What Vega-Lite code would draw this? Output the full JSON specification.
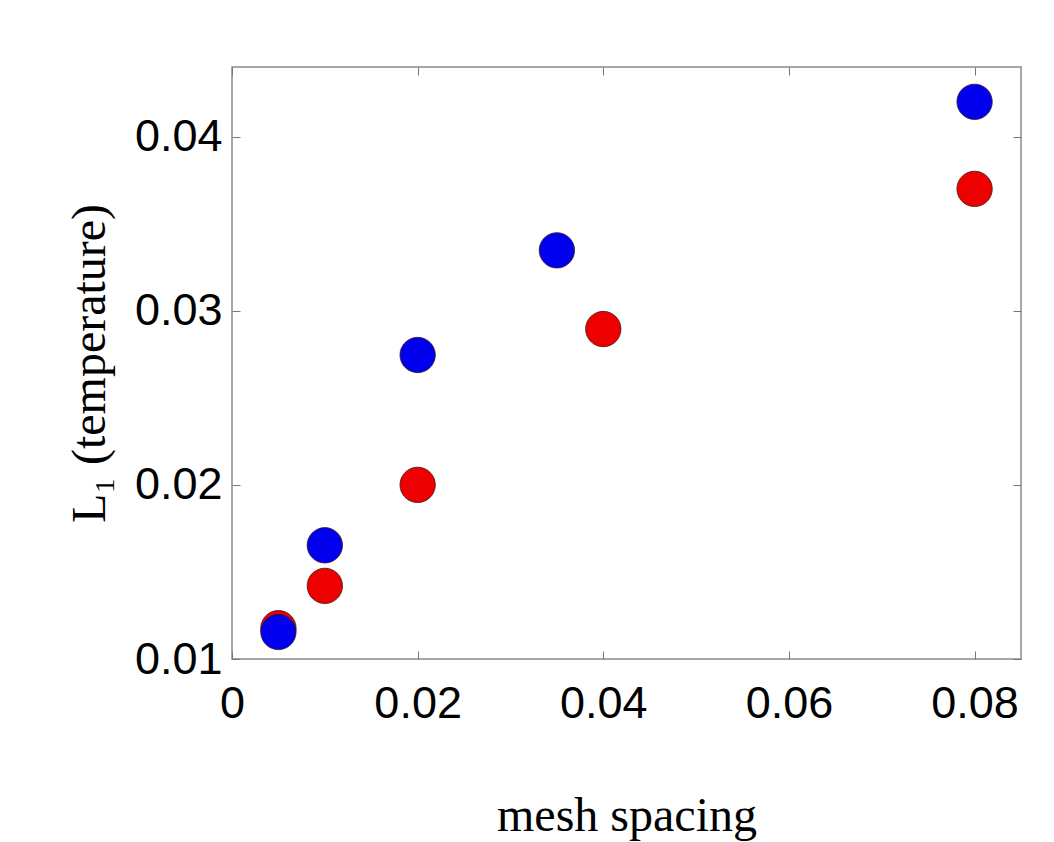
{
  "$schema": "https://vega.github.io/schema/vega-lite/v6.json",
  "width": 789,
  "height": 592,
  "autosize": {"type": "none"},
  "padding": {"left": 232, "top": 67, "right": 33, "bottom": 183},
  "background": "white",
  "config": {
    "view": {"stroke": "#8a8a8a", "strokeWidth": 1.5},
    "axis": {
      "grid": false,
      "domain": false,
      "tickColor": "#777777",
      "tickSize": -8,
      "tickWidth": 1,
      "labelFont": "Liberation Sans",
      "labelFontSize": 45,
      "labelColor": "black",
      "labelFlush": false,
      "titleFont": "Liberation Serif",
      "titleFontWeight": "normal",
      "titleFontSize": 48,
      "titleColor": "black"
    }
  },
  "data": {
    "values": [
      {"series": "red", "h": 0.005, "err": 0.01177},
      {"series": "red", "h": 0.01, "err": 0.0142},
      {"series": "red", "h": 0.02, "err": 0.0200},
      {"series": "red", "h": 0.04, "err": 0.02895},
      {"series": "red", "h": 0.08, "err": 0.0370},
      {"series": "blue", "h": 0.005, "err": 0.01155},
      {"series": "blue", "h": 0.01, "err": 0.01653},
      {"series": "blue", "h": 0.02, "err": 0.02746},
      {"series": "blue", "h": 0.035, "err": 0.03347},
      {"series": "blue", "h": 0.08, "err": 0.0420}
    ]
  },
  "layer": [
    {
      "mark": {"type": "point", "filled": true, "size": 1250, "stroke": "#3a1a1a", "strokeWidth": 0.8, "opacity": 1},
      "encoding": {
        "x": {
          "field": "h", "type": "quantitative",
          "scale": {"domain": [0, 0.085], "nice": false, "zero": false},
          "axis": {"orient": "bottom", "values": [0, 0.02, 0.04, 0.06, 0.08], "labelExpr": "datum.value == 0 ? '0' : format(datum.value, '.2f')", "labelPadding": 30, "labelFlush": false, "title": "mesh spacing", "titlePadding": 66}
        },
        "y": {
          "field": "err", "type": "quantitative",
          "scale": {"domain": [0.01, 0.044], "nice": false, "zero": false},
          "axis": {"orient": "left", "values": [0.01, 0.02, 0.03, 0.04], "format": ".2f", "labelPadding": 18, "title": "L₁ (temperature)", "titlePadding": 20}
        },
        "color": {
          "field": "series", "type": "nominal",
          "scale": {"domain": ["red", "blue"], "range": ["#ee0000", "#0000ee"]},
          "legend": null
        }
      }
    },
    {
      "mark": {"type": "point", "opacity": 0},
      "encoding": {
        "x": {"field": "h", "type": "quantitative", "axis": {"orient": "top", "values": [0, 0.02, 0.04, 0.06, 0.08], "labels": false, "title": null}},
        "y": {"field": "err", "type": "quantitative", "axis": {"orient": "right", "values": [0.01, 0.02, 0.03, 0.04], "labels": false, "title": null}}
      }
    }
  ],
  "resolve": {"axis": {"x": "independent", "y": "independent"}}
}
